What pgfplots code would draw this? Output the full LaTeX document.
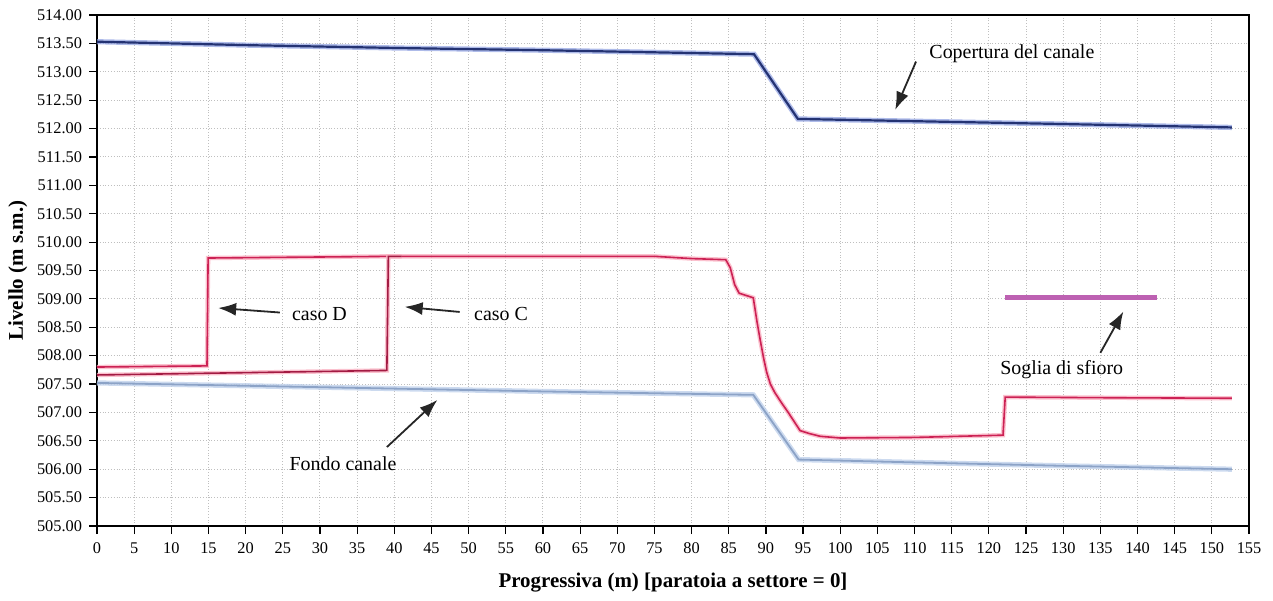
\documentclass[border=0pt]{standalone}
\usepackage{pgfplots}
\pgfplotsset{compat=1.18}
\usepackage{fontspec}
\setmainfont{Liberation Serif}
\usetikzlibrary{arrows.meta}
\definecolor{navyline}{rgb}{0.14,0.20,0.45}
\definecolor{navyhalo}{rgb}{0.55,0.62,0.88}
\definecolor{fondoline}{rgb}{0.55,0.64,0.78}
\definecolor{fondohalo}{rgb}{0.75,0.82,0.92}
\definecolor{redline}{rgb}{0.80,0.13,0.33}
\definecolor{redhalo}{rgb}{0.98,0.70,0.76}
\definecolor{sogliac}{rgb}{0.74,0.38,0.70}

\pgfplotstableread{
x y
0 513.53
20 513.47
40 513.42
60 513.38
88.4 513.31
94.3 512.17
110 512.13
130 512.08
152.7 512.02
}\copertura

\pgfplotstableread{
x y
0 507.52
20 507.47
40 507.42
60 507.37
88.3 507.31
94.4 506.17
110 506.12
130 506.06
152.7 506.00
}\fondo

\pgfplotstableread{
x y
0 507.80
14.8 507.82
14.95 509.72
40 509.75
75 509.75
80 509.71
84.6 509.69
85.2 509.55
85.8 509.25
86.4 509.10
88.3 509.02
88.8 508.60
89.2 508.30
89.7 507.95
90.1 507.71
90.6 507.50
91.2 507.35
92.1 507.17
93.0 507.00
93.8 506.84
94.6 506.68
95.8 506.63
97.3 506.58
100 506.55
110 506.56
121.9 506.60
122.2 507.27
135 507.26
152.7 507.25
}\casoD

\pgfplotstableread{
x y
0 507.66
39.0 507.74
39.2 509.75
41 509.75
}\casoC

\pgfplotstableread{
x y
122.2 509.02
142.6 509.02
}\soglia

\begin{document}
\begin{tikzpicture}
\useasboundingbox (-48.5bp,-37.5bp) rectangle (588bp,263bp);
\begin{axis}[
  scale only axis,
  width=576bp, height=255.5bp,
  xmin=0, xmax=155, ymin=505, ymax=514,
  xtick={0,5,...,155},
  ytick={505,505.5,...,514},
  yticklabel style={/pgf/number format/.cd, fixed, fixed zerofill, precision=2, 1000 sep={}, assume math mode=true},
  xticklabel style={/pgf/number format/assume math mode=true, yshift=-1bp},
  tick label style={font=\fontsize{8.2}{9}\selectfont},
  tick align=outside,
  major tick length=4bp,
  tick style={black, line width=0.6bp},
  xtick pos=bottom, ytick pos=left,
  axis line style={line width=1.1bp},
  grid=major,
  grid style={densely dotted, gray!50, line width=0.5bp},
  xlabel={\textbf{Progressiva (m) [paratoia a settore = 0]}},
  ylabel={\textbf{Livello (m s.m.)}},
  every axis x label/.style={at={(axis description cs:0.5,-0.1115)}, anchor=center, font=\fontsize{10.5}{12}\selectfont},
  every axis y label/.style={at={(axis description cs:-0.0686,0.5)}, rotate=90, anchor=center, font=\fontsize{10.5}{12}\selectfont},
  clip=false,
]
% Copertura
\addplot[navyhalo, line width=2.6bp, opacity=0.7] table[x=x,y=y] {\copertura};
\addplot[navyline, line width=1.1bp] table[x=x,y=y] {\copertura};
% Fondo
\addplot[fondohalo, line width=2.6bp, opacity=0.8] table[x=x,y=y] {\fondo};
\addplot[fondoline, line width=0.9bp] table[x=x,y=y] {\fondo};
% caso D
\addplot[redhalo, line width=2.2bp, opacity=0.8] table[x=x,y=y] {\casoD};
\addplot[redline, line width=0.8bp] table[x=x,y=y] {\casoD};
% caso C
\addplot[redhalo, line width=2.2bp, opacity=0.8] table[x=x,y=y] {\casoC};
\addplot[redline!80!black, line width=0.8bp] table[x=x,y=y] {\casoC};
% Soglia
\addplot[sogliac, line width=2.4bp] table[x=x,y=y] {\soglia};

% annotations
\draw[-{Latex[length=9bp,width=6.5bp]}, line width=0.9bp, black!85] (axis cs:110.2,513.18) -- (axis cs:107.4,512.33);
\node[font=\fontsize{10}{12}\selectfont] at (axis cs:123.1,513.32) {Copertura del canale};

\draw[-{Latex[length=9bp,width=6.5bp]}, line width=0.9bp, black!85] (axis cs:24.6,508.76) -- (axis cs:16.3,508.84);
\node[anchor=west, font=\fontsize{10}{12}\selectfont] at (axis cs:25.3,508.74) {caso D};

\draw[-{Latex[length=9bp,width=6.5bp]}, line width=0.9bp, black!85] (axis cs:48.8,508.77) -- (axis cs:41.4,508.86);
\node[anchor=west, font=\fontsize{10}{12}\selectfont] at (axis cs:49.8,508.74) {caso C};

\draw[-{Latex[length=9bp,width=6.5bp]}, line width=0.9bp, black!85] (axis cs:135.0,508.05) -- (axis cs:138.1,508.78);
\node[font=\fontsize{10}{12}\selectfont] at (axis cs:129.8,507.76) {Soglia di sfioro};

\draw[-{Latex[length=9bp,width=6.5bp]}, line width=0.9bp, black!85] (axis cs:39.0,506.39) -- (axis cs:45.8,507.22);
\node[font=\fontsize{10}{12}\selectfont] at (axis cs:33.1,506.10) {Fondo canale};
\end{axis}
\end{tikzpicture}
\end{document}
